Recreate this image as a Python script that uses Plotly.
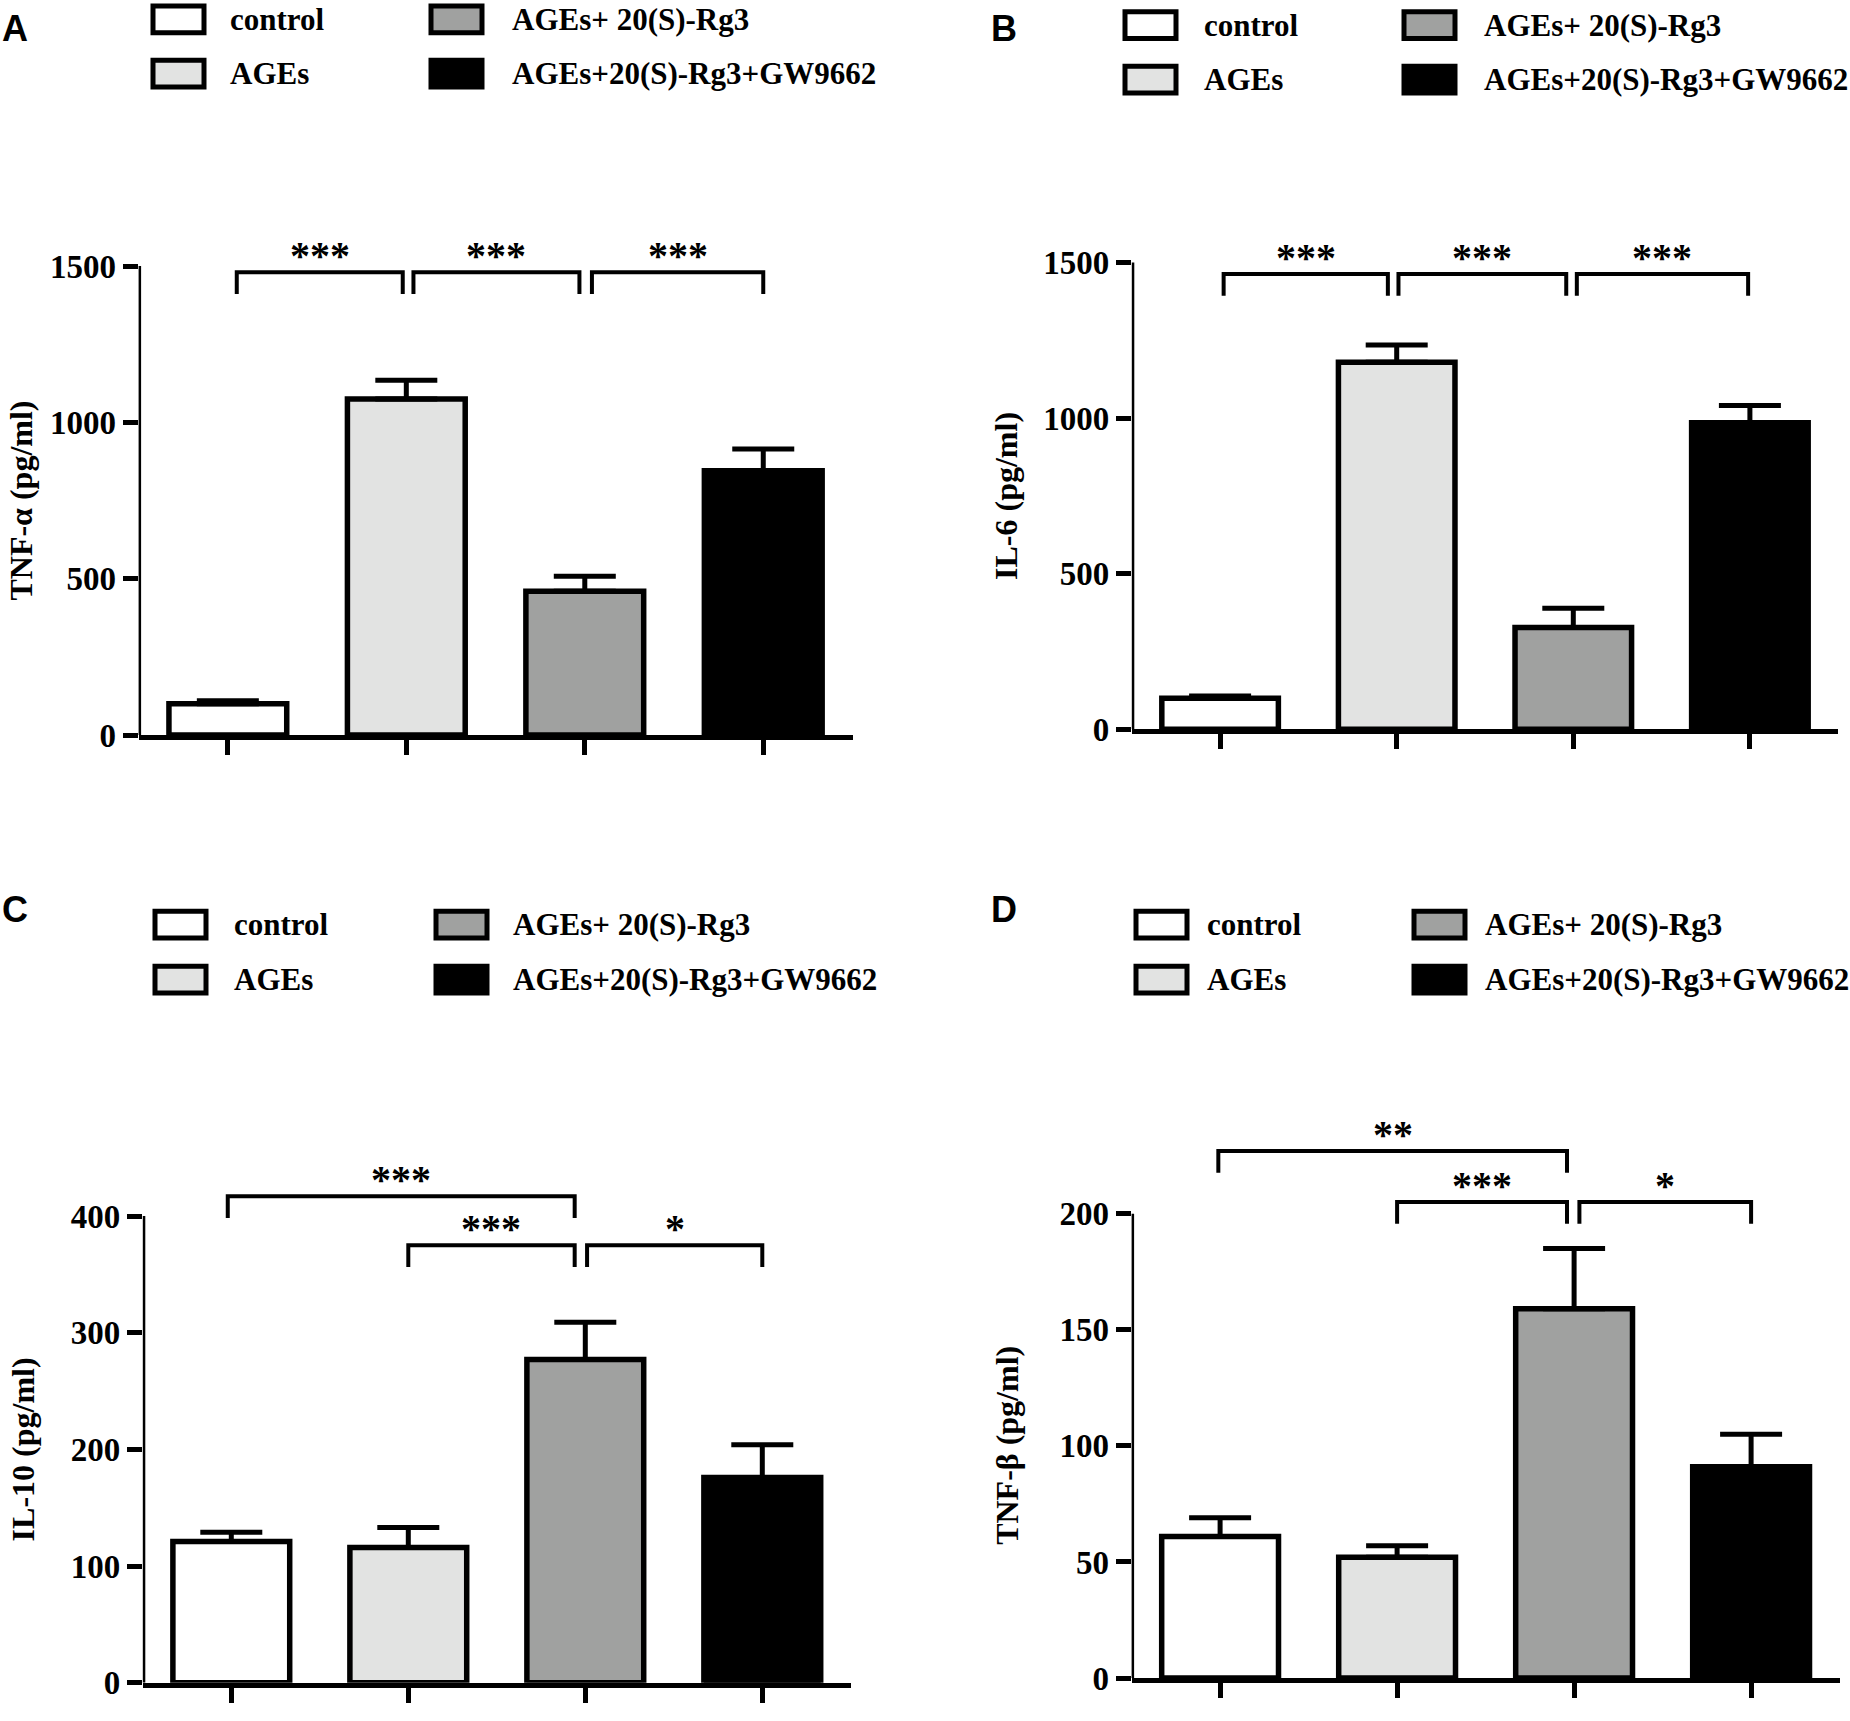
import plotly.graph_objects as go

W, H = 1850, 1721

groups = ["control", "AGEs", "AGEs+ 20(S)-Rg3", "AGEs+20(S)-Rg3+GW9662"]
fills = ["#ffffff", "#e2e3e2", "#a0a1a0", "#000000"]

# mean and upper error (pg/ml)
tnf_a = [100, 1075, 460, 845]
tnf_a_err = [10, 60, 48, 70]
il6 = [100, 1180, 327, 985]
il6_err = [7, 55, 62, 56]
il10 = [121, 116, 277, 176]
il10_err = [8, 17, 32, 28]
tnf_b = [61, 52, 159, 91]
tnf_b_err = [8, 5, 26, 14]

# significance brackets: (from, to, height, label)
tnf_a_sig = [(0.05, 0.98, 1480, "***"), (1.04, 1.97, 1480, "***"), (2.04, 3.0, 1480, "***")]
il6_sig = [(0.02, 0.95, 1463, "***"), (1.01, 1.96, 1463, "***"), (2.02, 2.99, 1463, "***")]
il10_sig = [(-0.02, 1.94, 417, "***"), (1.0, 1.94, 375, "***"), (2.01, 3.0, 375, "*")]
tnf_b_sig = [(-0.01, 1.96, 227, "**"), (1.0, 1.96, 205, "***"), (2.03, 3.0, 205, "*")]

serif = "Liberation Serif"
sans = "Liberation Sans"

# panel geometry in page pixels
panels = [
    dict(tag="A", title="TNF-α (pg/ml)", y=tnf_a, err=tnf_a_err, sig=tnf_a_sig,
         left=138.6, right=852.5, y0=743.3, ytop=269.0, top=1500, ymax=1600,
         ticks=[0, 500, 1000, 1500], lab=(0, 6), title_x=21,
         leg=(151, 228, 429, 510, 19.5, 74.5)),
    dict(tag="B", title="IL-6 (pg/ml)", y=il6, err=il6_err, sig=il6_sig,
         left=1131.8, right=1838.2, y0=737.5, ytop=265.5, top=1500, ymax=1600,
         ticks=[0, 500, 1000, 1500], lab=(989, 6), title_x=1006,
         leg=(1123, 1202, 1402, 1482, 25.5, 80.5)),
    dict(tag="C", title="IL-10 (pg/ml)", y=il10, err=il10_err, sig=il10_sig,
         left=142.8, right=850.8, y0=1701.6, ytop=1229.6, top=400, ymax=440,
         ticks=[0, 100, 200, 300, 400], lab=(0, 897), title_x=23,
         leg=(153, 232, 434, 511, 935, 990.5)),
    dict(tag="D", title="TNF-β (pg/ml)", y=tnf_b, err=tnf_b_err, sig=tnf_b_sig,
         left=1131.6, right=1839.6, y0=1696.8, ytop=1227.2, top=200, ymax=240,
         ticks=[0, 50, 100, 150, 200], lab=(989, 897), title_x=1007,
         leg=(1134, 1205, 1412, 1483, 935, 990.5)),
]

fig = go.Figure()
layout = dict(width=W, height=H, margin=dict(l=0, r=0, t=0, b=0),
              paper_bgcolor="white", plot_bgcolor="white", showlegend=False)
annotations = []
shapes = []

for i, p in enumerate(panels):
    n = "" if i == 0 else str(i + 1)
    xa, ya = "x" + n, "y" + n
    ppu = (p["y0"] - p["ytop"]) / p["top"]
    ytop_px = p["y0"] - p["ymax"] * ppu

    layout["xaxis" + n] = dict(
        domain=[p["left"] / W, p["right"] / W], range=[-0.5, 3.5], anchor=ya,
        showline=True, linecolor="black", linewidth=5, ticks="outside",
        tickvals=[0, 1, 2, 3], ticklen=15, tickwidth=4.5, tickcolor="black",
        showticklabels=False, showgrid=False, zeroline=False, fixedrange=True)
    layout["yaxis" + n] = dict(
        domain=[1 - p["y0"] / H, 1 - ytop_px / H], range=[0, p["ymax"]], anchor=xa,
        showline=False, ticks="outside", tickvals=p["ticks"], ticklen=15,
        tickwidth=4.5, tickcolor="black", showgrid=False, zeroline=False,
        tickfont=dict(family=serif, size=33, color="black", weight="bold"),
        fixedrange=True)

    fig.add_trace(go.Bar(
        x=[0, 1, 2, 3], y=p["y"], width=0.66, xaxis=xa, yaxis=ya,
        marker=dict(color=fills, line=dict(color="black", width=5.5)),
        error_y=dict(type="data", array=p["err"], arrayminus=[0] * 4,
                     symmetric=False, color="black", thickness=5, width=31),
        hoverinfo="skip"))

    # y axis line, only up to the last tick
    fig.add_trace(go.Scatter(
        x=[-0.5, -0.5], y=[0, p["top"]], mode="lines", xaxis=xa, yaxis=ya,
        line=dict(color="black", width=5), cliponaxis=False, hoverinfo="skip"))

    leg = 22 / ppu
    for x0, x1, yb, label in p["sig"]:
        fig.add_trace(go.Scatter(
            x=[x0, x0, x1, x1], y=[yb - leg, yb, yb, yb - leg], mode="lines",
            xaxis=xa, yaxis=ya, line=dict(color="black", width=4),
            cliponaxis=False, hoverinfo="skip"))
        annotations.append(dict(
            x=(x0 + x1) / 2, y=yb, xref=xa, yref=ya, text=label, showarrow=False,
            yanchor="bottom", yshift=-8,
            font=dict(family=serif, size=40, color="black", weight="bold")))

    # y title
    annotations.append(dict(
        x=p["title_x"] / W, y=1 - (p["y0"] + p["ytop"]) / 2 / H,
        xref="paper", yref="paper", text=p["title"], textangle=-90,
        showarrow=False, xanchor="center", yanchor="middle",
        font=dict(family=serif, size=32, color="black", weight="bold")))

    # panel letter
    annotations.append(dict(
        x=p["lab"][0] / W, y=1 - p["lab"][1] / H, xref="paper", yref="paper",
        text=p["tag"], showarrow=False, xanchor="left", yanchor="top",
        font=dict(family=sans, size=36, color="black", weight="bold")))

    # legend, two columns
    bx1, tx1, bx2, tx2, r1, r2 = p["leg"]
    spots = [(bx1, tx1, r1), (bx1, tx1, r2), (bx2, tx2, r1), (bx2, tx2, r2)]
    for g, c, (bx, tx, ry) in zip(groups, fills, spots):
        shapes.append(dict(
            type="rect", xref="paper", yref="paper",
            x0=(bx + 2) / W, x1=(bx + 53) / W, y0=1 - (ry - 13.5) / H, y1=1 - (ry + 13.5) / H,
            fillcolor=c, line=dict(color="black", width=5)))
        annotations.append(dict(
            x=tx / W, y=1 - ry / H, xref="paper", yref="paper", text=g,
            showarrow=False, xanchor="left", yanchor="middle",
            font=dict(family=serif, size=31, color="black", weight="bold")))

layout["annotations"] = annotations
layout["shapes"] = shapes
fig.update_layout(**layout)

# drop the default body margin so the figure fills the window
fig.write_html("out.html", config={"displayModeBar": False},
               post_script="document.body.style.margin = '0';")
